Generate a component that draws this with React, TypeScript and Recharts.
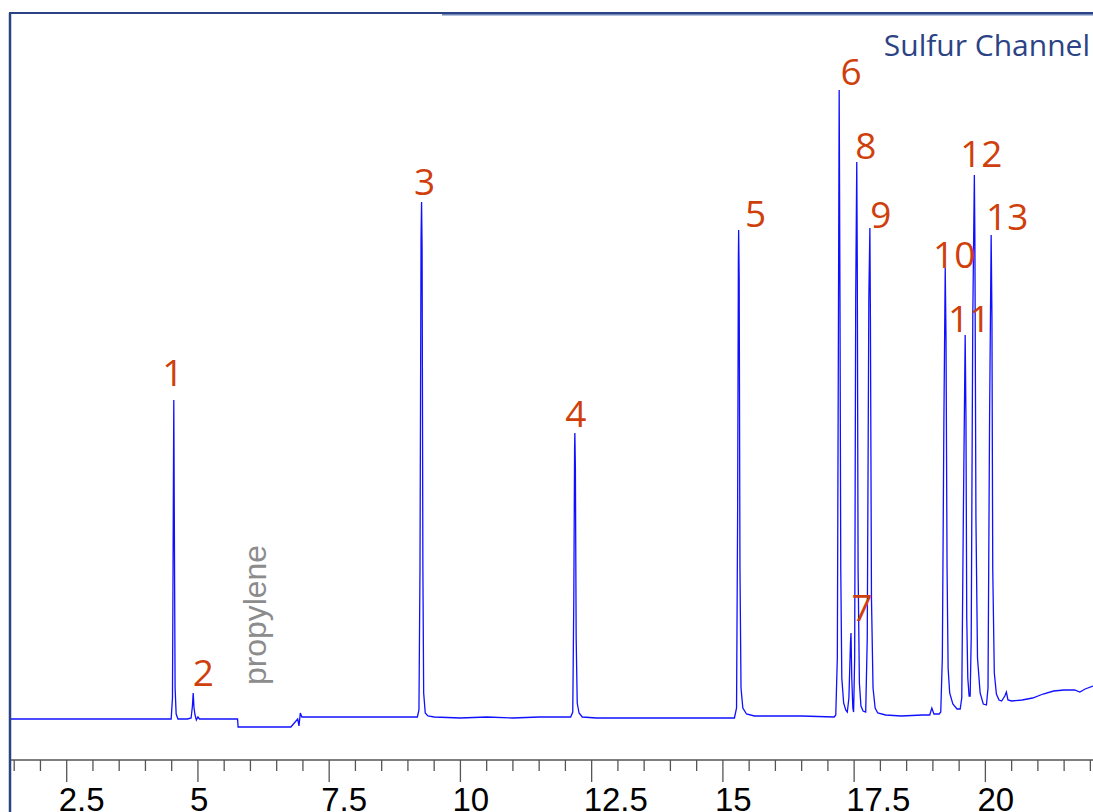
import React from "react";
import {
  ComposedChart,
  Line,
  Scatter,
  XAxis,
  YAxis,
  ReferenceDot,
} from "recharts";

// retention time (min) and detector signal (counts above baseline)
const retentionTime = [
  1.42, 2.0, 2.6, 3.2, 3.8, 4.3, 4.49,
  4.515, 4.53, 4.54, 4.55, 4.565, 4.585, 4.62, 4.8, 4.87,
  4.895, 4.91, 4.925, 4.945, 4.97, 5.0, 5.03, 5.4, 5.755,
  5.765, 6.2, 6.77, 6.9, 6.925, 6.95, 6.98, 7.1, 7.6, 8.5, 9.18,
  9.21, 9.23, 9.25, 9.26, 9.27, 9.285, 9.3, 9.33, 9.38, 9.5, 10.0, 10.5, 11.0, 11.5, 12.1,
  12.14, 12.16, 12.175, 12.18, 12.19, 12.205, 12.225, 12.26, 12.32, 12.6, 13.5, 14.5, 15.22,
  15.26, 15.28, 15.295, 15.3, 15.31, 15.325, 15.345, 15.38, 15.45, 15.6, 16.5, 17.12,
  17.15, 17.18, 17.2, 17.215, 17.23, 17.245, 17.265, 17.3, 17.34, 17.37,
  17.4, 17.43, 17.44, 17.455, 17.475, 17.49,
  17.51, 17.53, 17.55, 17.56, 17.575, 17.6, 17.63, 17.67, 17.72,
  17.75, 17.78, 17.8, 17.81, 17.83, 17.86, 17.9, 17.95, 18.1, 18.4, 18.8,
  18.94, 18.98, 19.02, 19.12,
  19.15, 19.18, 19.21, 19.235, 19.25, 19.27, 19.29, 19.32, 19.38, 19.46, 19.52,
  19.55, 19.58, 19.615, 19.63, 19.645, 19.665, 19.69, 19.71,
  19.73, 19.76, 19.79, 19.8, 19.82, 19.85, 19.9, 19.96, 20.02,
  20.05, 20.08, 20.11, 20.125, 20.14, 20.17, 20.21, 20.26, 20.31,
  20.37, 20.4, 20.43, 20.5, 20.7, 20.9, 21.1, 21.3, 21.5, 21.7, 21.8, 21.9, 22.05,
];

const signal = [
  -1, -1, -1, -1, -1, -1, -1,
  20, 200, 318, 200, 30, 4, -1, -1, 0,
  12, 25, 10, 3, -2, 1, -1, -1, -1,
  -9, -9, -9, -1, -8, 5, 1, 1, 1, 1, 1,
  8, 150, 480, 516, 470, 150, 25, 5, 2, 1, 0, 1, 0, 1, 1,
  6, 120, 270, 285, 250, 80, 15, 5, 1, 0, 0, 0, 0,
  10, 200, 460, 488, 440, 150, 30, 10, 4, 2, 2, 1,
  3, 60, 380, 628, 420, 150, 40, 15, 8, 6,
  20, 75, 85, 40, 10, 6,
  60, 420, 556, 450, 150, 35, 12, 7, 6,
  80, 420, 490, 400, 120, 30, 10, 5, 3, 2, 3,
  3, 10, 4, 4,
  6, 60, 300, 450, 380, 150, 50, 25, 14, 9, 9,
  20, 200, 383, 300, 100, 40, 22, 22,
  80, 400, 543, 480, 200, 60, 25, 14, 13,
  30, 300, 483, 400, 150, 45, 24, 18, 17,
  22, 26, 18, 17, 18, 20, 24, 27, 28, 28, 26, 29, 32,
];

// numbered peaks
const peakNames = ["1", "2", "3", "4", "5", "6", "7", "8", "9", "10", "11", "12", "13"];
const peakTimes = [4.54, 4.91, 9.26, 12.18, 15.3, 17.215, 17.44, 17.55, 17.8, 19.235, 19.615, 19.79, 20.11];
const peakHeights = [318, 25, 516, 285, 488, 628, 85, 556, 490, 450, 383, 543, 483];

// axis ticks every 0.5 min, labelled every 2.5
const tickValues = [
  1.5, 2, 2.5, 3, 3.5, 4, 4.5, 5, 5.5, 6, 6.5, 7, 7.5, 8, 8.5, 9, 9.5, 10,
  10.5, 11, 11.5, 12, 12.5, 13, 13.5, 14, 14.5, 15, 15.5, 16, 16.5, 17, 17.5,
  18, 18.5, 19, 19.5, 20, 20.5, 21, 21.5, 22,
];
const tickLabels = ["2.5", "5", "7.5", "10", "12.5", "15", "17.5", "20"];

// label placement relative to the apex, in px
const labelDx = [-1, 10, 3, 1, 17, 12, 11, 9, 11, 9, 4, 7, 16];
const labelDy = [-14, -7, -7, -6, -3, -5, -12, -3, 0, 0, -3, -8, -5];

const trace = retentionTime.map((t, i) => ({ t, s: signal[i] }));
const peaks = peakNames.map((name, i) => ({
  t: peakTimes[i],
  s: peakHeights[i],
  name,
  idx: i,
}));

const NAVY = "#2b4384";
const PEAK_RED = "#cf3f0c";

function MinuteTick(props: any) {
  const { x, y, payload } = props;
  const v = payload.value;
  const label = tickLabels.find((l) => Number(l) === v);
  const len = label ? 22 : 11;
  return (
    <g>
      <line x1={x} y1={y} x2={x} y2={y + len} stroke="#555" strokeWidth={1.3} />
      {label && (
        <text
          x={x - 8}
          y={y + 51}
          textAnchor="start"
          fontFamily="'Liberation Sans', Arial, sans-serif"
          fontSize={33}
          fill="#000"
        >
          {label}
        </text>
      )}
    </g>
  );
}

function PeakLabel(props: any) {
  const { cx, cy, payload } = props;
  if (cx == null || cy == null) return null;
  const i = payload.idx;
  return (
    <text
      x={cx + labelDx[i]}
      y={cy + labelDy[i]}
      textAnchor="middle"
      fontFamily="'Open Sans', sans-serif"
      fontSize={37}
      fill={PEAK_RED}
    >
      {payload.name}
    </text>
  );
}

function Propylene(props: any) {
  const { cx, cy } = props;
  if (cx == null || cy == null) return null;
  return (
    <text
      x={cx}
      y={cy}
      transform={`rotate(-90 ${cx} ${cy})`}
      textAnchor="start"
      fontFamily="'Liberation Sans', Arial, sans-serif"
      fontSize={31}
      textLength={140}
      lengthAdjust="spacingAndGlyphs"
      fill="#8c8c8c"
    >
      propylene
    </text>
  );
}

export default function App() {
  return (
    <div
      style={{
        position: "fixed",
        left: 0,
        top: 0,
        width: 1093,
        height: 812,
        overflow: "hidden",
        background: "#fff",
      }}
    >
      <ComposedChart
        width={1093}
        height={812}
        data={trace}
        margin={{ top: 13, right: 0, left: 10, bottom: 0 }}
      >
        <XAxis
          dataKey="t"
          type="number"
          domain={[1.42, 22.05]}
          allowDataOverflow
          ticks={tickValues}
          interval={0}
          tickSize={0}
          tickMargin={0}
          tickLine={false}
          height={52}
          axisLine={{ stroke: "#555", strokeWidth: 1.3 }}
          tick={<MinuteTick />}
        />
        <YAxis hide type="number" domain={[-42, 705]} allowDataOverflow />
        <Line
          type="linear"
          dataKey="s"
          stroke="#1010ff"
          strokeWidth={1.3}
          dot={false}
          activeDot={false}
          isAnimationActive={false}
        />
        <Scatter
          data={peaks}
          dataKey="s"
          shape={<PeakLabel />}
          isAnimationActive={false}
        />
        <ReferenceDot x={6.3} y={33} shape={<Propylene />} />
      </ComposedChart>
      <svg
        width={1093}
        height={812}
        style={{ position: "absolute", left: 0, top: 0, pointerEvents: "none" }}
      >
        <line x1={10} y1={13} x2={10} y2={812} stroke={NAVY} strokeWidth={2.5} />
        <line x1={9} y1={13} x2={1093} y2={13} stroke={NAVY} strokeWidth={2} />
        <line x1={442} y1={14.8} x2={1093} y2={14.8} stroke="#6f86b8" strokeWidth={1.4} />
        <text
          x={1090}
          y={56}
          textAnchor="end"
          fontFamily="'Open Sans', sans-serif"
          fontSize={30}
          fill={NAVY}
        >
          Sulfur Channel
        </text>
      </svg>
    </div>
  );
}
